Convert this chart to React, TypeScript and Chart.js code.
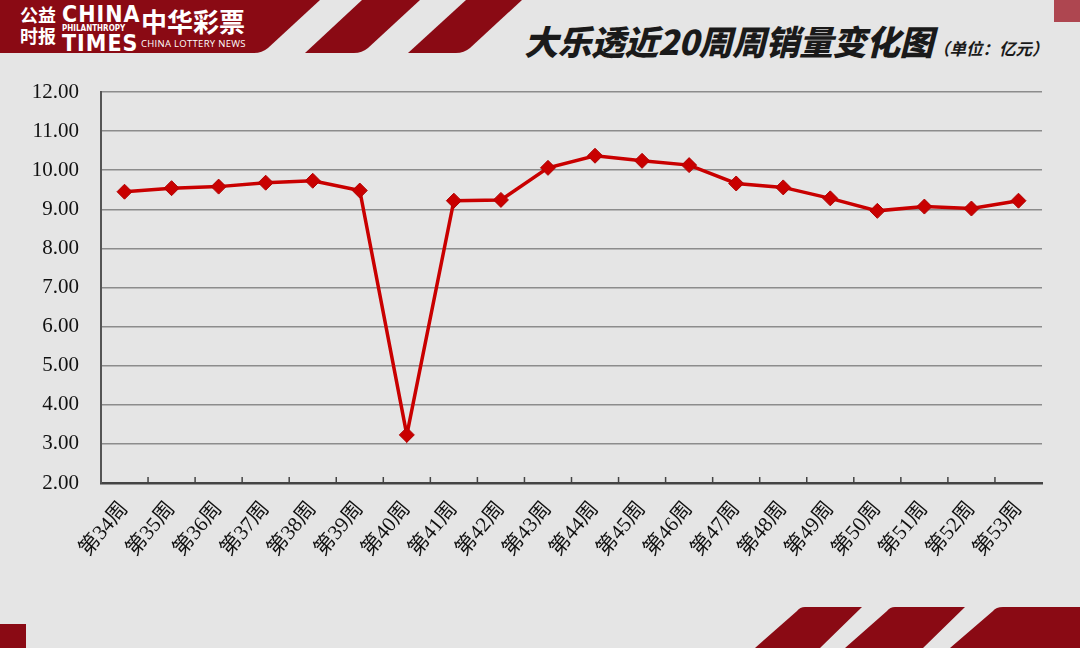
import React, { useEffect, useRef } from "react";
import { Chart, registerables } from "chart.js";

Chart.register(...registerables);

const weeks = [
  "第34周", "第35周", "第36周", "第37周", "第38周", "第39周", "第40周",
  "第41周", "第42周", "第43周", "第44周", "第45周", "第46周", "第47周",
  "第48周", "第49周", "第50周", "第51周", "第52周", "第53周",
];
const sales = [
  9.45, 9.54, 9.58, 9.68, 9.73, 9.48, 3.23, 9.22, 9.24, 10.06,
  10.37, 10.24, 10.13, 9.66, 9.56, 9.28, 8.96, 9.07, 9.02, 9.22,
];
const yMin = 2;
const yMax = 12;
const yStep = 1;

const title = "大乐透近20周周销量变化图";
const unit = "（单位：亿元）";

const RED = "#8a0a14";
const BG = "#e5e5e5";

const innerTicks = {
  id: "innerTicks",
  beforeDatasetsDraw(chart: any) {
    const x = chart.scales.x;
    const ctx = chart.ctx;
    const bottom = chart.chartArea.bottom;
    ctx.save();
    ctx.strokeStyle = "#444";
    ctx.lineWidth = 1.5;
    for (let i = 0; i < weeks.length - 1; i++) {
      const px = (x.getPixelForValue(i) + x.getPixelForValue(i + 1)) / 2;
      ctx.beginPath();
      ctx.moveTo(px, bottom);
      ctx.lineTo(px, bottom - 6);
      ctx.stroke();
    }
    ctx.restore();
  },
};

export default function App() {
  const ref = useRef<HTMLCanvasElement | null>(null);
  useEffect(() => {
    if (!ref.current) return;
    const chart = new Chart(ref.current, {
      type: "line",
      data: {
        labels: weeks,
        datasets: [
          {
            data: sales,
            borderColor: "#c90000",
            backgroundColor: "#c90000",
            borderWidth: 3.5,
            pointStyle: "rectRot",
            pointRadius: 7.5,
            pointBorderWidth: 1,
            pointBorderColor: "#b00000",
            pointBackgroundColor: "#c90000",
            tension: 0,
          },
        ],
      },
      options: {
        animation: false,
        responsive: false,
        devicePixelRatio: 1,
        layout: { padding: { left: 0, top: 92, right: 38, bottom: 0 } },
        plugins: { legend: { display: false }, tooltip: { enabled: false } },
        scales: {
          x: {
            offset: true,
            afterFit: (s: any) => { s.height = 165; },
            grid: { display: false, drawTicks: false },
            border: { display: true, color: "#444", width: 2.5 },
            ticks: {
              minRotation: 50,
              maxRotation: 50,
              autoSkip: false,
              padding: 14,
              color: "#111",
              font: { family: "'Liberation Serif', 'Noto Sans CJK SC', serif", size: 21 },
            },
          },
          y: {
            min: yMin,
            max: yMax,
            afterFit: (s: any) => { s.width = 101; },
            grid: { color: "#8c8c8c", lineWidth: 1.5, drawTicks: false },
            border: { display: true, color: "#555", width: 2 },
            ticks: {
              stepSize: yStep,
              padding: 22,
              color: "#111",
              font: { family: "'Liberation Serif', serif", size: 21 },
              callback: (v: any) => Number(v).toFixed(2),
            },
          },
        },
      },
      plugins: [innerTicks],
    });
    return () => chart.destroy();
  }, []);

  return (
    <div style={{ position: "absolute", left: 0, top: 0, width: 1080, height: 648, background: BG, overflow: "hidden" }}>
      <svg width={1080} height={648} style={{ position: "absolute", left: 0, top: 0 }}>
        <path d="M0 0 L320 0 L268 48 Q262 53 254 53 L0 53 Z" fill={RED} />
        <path d="M362 0 L420 0 L368 48 Q362 53 354 53 L305 53 Z" fill={RED} />
        <path d="M466 0 L522 0 L470 48 Q464 53 456 53 L408 53 Z" fill={RED} />
        <rect x={1054} y={0} width={26} height={22} fill="#a52a36" opacity={0.85} />
        <rect x={0} y={624} width={26} height={24} fill={RED} />
        <path d="M805 607 L862 607 L820 648 L755 648 L797 611 Q800 607 805 607 Z" fill={RED} />
        <path d="M895 607 L965 607 L923 648 L845 648 L887 611 Q890 607 895 607 Z" fill={RED} />
        <path d="M1003 607 L1080 607 L1080 648 L950 648 L993 611 Q996 607 1003 607 Z" fill={RED} />
      </svg>
      <div style={{ position: "absolute", left: 20, top: 4, width: 38, color: "#fff", fontFamily: "'Noto Sans CJK SC'", fontWeight: 700, fontSize: 18, lineHeight: "21px", letterSpacing: 0 }}>
        <div>公益</div>
        <div>时报</div>
      </div>
      <div style={{ position: "absolute", left: 62, top: 4, color: "#fff", fontFamily: "'Liberation Sans Narrow', 'DejaVu Sans Condensed', sans-serif", fontWeight: 700 }}>
        <div style={{ fontSize: 23, lineHeight: "21px", letterSpacing: 1 }}>CHINA</div>
        <div style={{ fontSize: 8, lineHeight: "8px", letterSpacing: 0 }}>PHILANTHROPY</div>
        <div style={{ fontSize: 23, lineHeight: "20px", letterSpacing: 1 }}>TIMES</div>
      </div>
      <div style={{ position: "absolute", left: 141, top: 4, color: "#fff", fontFamily: "'Noto Sans CJK SC'", fontWeight: 700, fontSize: 26, lineHeight: "34px", letterSpacing: 0 }}>中华彩票</div>
      <div style={{ position: "absolute", left: 141, top: 38, color: "#fff", fontFamily: "'Open Sans', sans-serif", fontSize: 9.5, lineHeight: "12px", letterSpacing: 0.3 }}>CHINA LOTTERY NEWS</div>
      <div style={{ position: "absolute", left: 524, top: 16, whiteSpace: "nowrap", color: "#1a1a1a", fontFamily: "'Noto Sans CJK SC'", fontWeight: 900, fontStyle: "italic" }}>
        <span style={{ fontSize: 34, letterSpacing: -0.5 }}>{title}</span>
        <span style={{ fontSize: 16.5, fontWeight: 700 }}>{unit}</span>
      </div>
      <canvas ref={ref} width={1080} height={648} style={{ position: "absolute", left: 0, top: 0 }} />
    </div>
  );
}
